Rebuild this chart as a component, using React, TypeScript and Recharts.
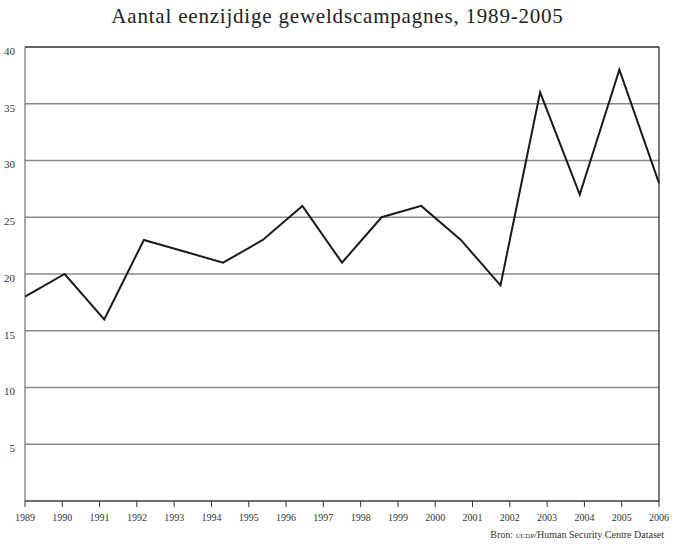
import { LineChart, Line, XAxis, YAxis, CartesianGrid, ReferenceLine } from 'recharts';

// one value per year, 1989-2005
const years = ['1989', '1990', '1991', '1992', '1993', '1994', '1995', '1996', '1997', '1998', '1999', '2000', '2001', '2002', '2003', '2004', '2005'];
const campaigns = [18, 20, 16, 23, 22, 21, 23, 26, 21, 25, 26, 23, 19, 36, 27, 38, 28];

// the axis labels run one year further than the data and are spaced evenly
const tickLabels = ['1989', '1990', '1991', '1992', '1993', '1994', '1995', '1996', '1997', '1998', '1999', '2000', '2001', '2002', '2003', '2004', '2005', '2006'];
const yTicks = [5, 10, 15, 20, 25, 30, 35, 40];

const font = '"Liberation Serif", "DejaVu Serif", serif';

export default function App() {
  const data = years.map((year, i) => ({ idx: i, year, value: campaigns[i] }));
  const last = years.length - 1;
  const xTicks = tickLabels.map((_, i) => (i * last) / (tickLabels.length - 1));

  return (
    <div style={{ position: 'absolute', left: 0, top: 0, width: 675, height: 552, background: '#fff', fontFamily: font }}>
      <div style={{ position: 'absolute', top: 4, left: 0, width: 675, textAlign: 'center', fontSize: 21, letterSpacing: 0.8, color: '#222' }}>
        Aantal eenzijdige geweldscampagnes, 1989-2005
      </div>
      <LineChart width={675} height={552} data={data} margin={{ top: 47, right: 16, bottom: 0, left: 0 }}>
        <CartesianGrid horizontal vertical={false} stroke="#8a8a8a" strokeWidth={1.5} />
        <XAxis
          dataKey="idx"
          type="number"
          domain={[0, last]}
          ticks={xTicks}
          interval={0}
          height={51}
          tickSize={6}
          stroke="#333"
          tickFormatter={(v: number) => tickLabels[Math.round((v * (tickLabels.length - 1)) / last)]}
          tick={{ fontSize: 10, fill: '#333', fontFamily: font }}
          tickMargin={7}
        />
        <YAxis
          domain={[0, 40]}
          ticks={yTicks}
          width={25}
          tickLine={false}
          stroke="#555"
          tick={{ fontSize: 11, fill: '#333', fontFamily: font, dy: 4 }}
          tickMargin={4}
        />
        <ReferenceLine y={40} stroke="#222" strokeWidth={1.2} />
        <ReferenceLine x={last} stroke="#222" strokeWidth={1.2} />
        <Line type="linear" dataKey="value" stroke="#1a1a1a" strokeWidth={2} dot={false} isAnimationActive={false} />
      </LineChart>
      <div style={{ position: 'absolute', top: 529, right: 11, fontSize: 10, color: '#333' }}>
        Bron: <span style={{ fontVariant: 'small-caps' }}>ucdp</span>/Human Security Centre Dataset
      </div>
    </div>
  );
}
